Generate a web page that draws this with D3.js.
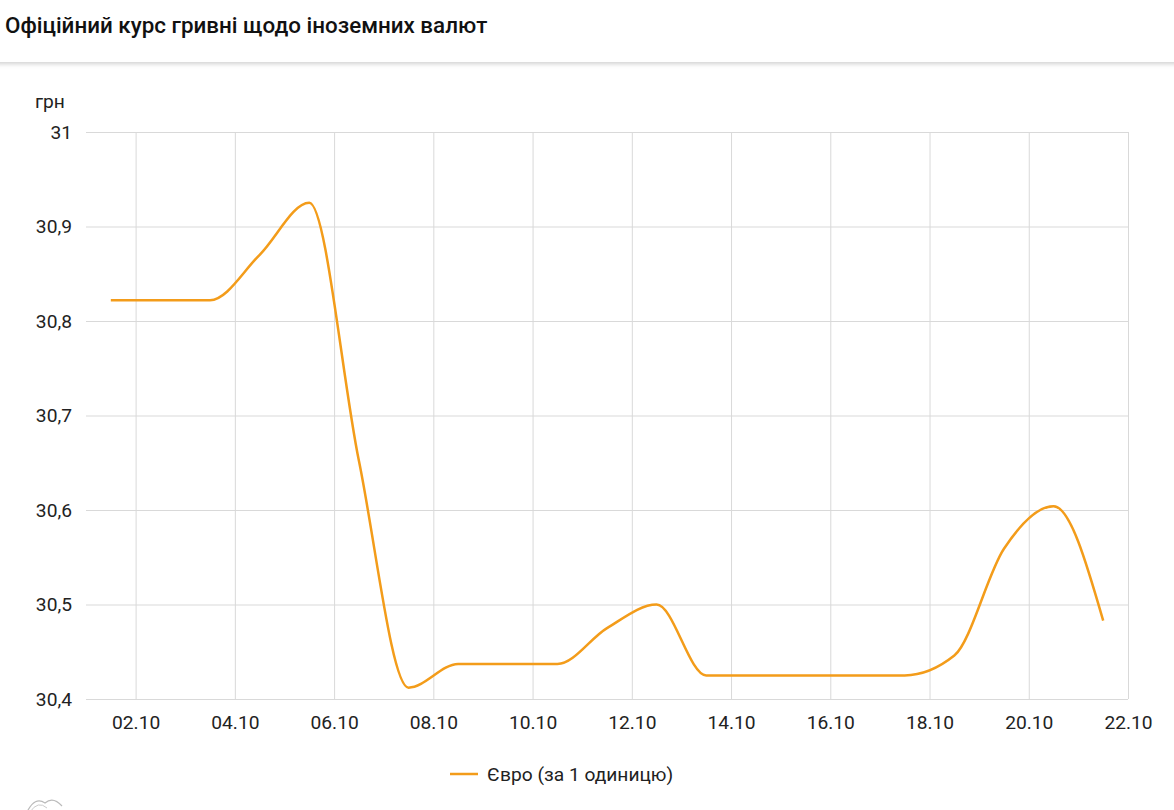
<!DOCTYPE html>
<html><head><meta charset="utf-8">
<script src="https://cdn.jsdelivr.net/npm/d3@7"></script>
<style>
body{margin:0;background:#fff;font-family:Roboto,"Noto Sans",sans-serif;}
</style></head>
<body><svg id="c" width="1174" height="810"></svg>
<script>
const title = "Офіційний курс гривні щодо іноземних валют";
const unitLabel = "грн";
const seriesName = "Євро (за 1 одиницю)";
const days = [1,2,3,4,5,6,7,8,9,10,11,12,13,14,15,16,17,18,19,20,21];
const values = [30.822,30.822,30.822,30.870,30.925,30.652,30.412,30.437,30.437,30.437,30.475,30.500,30.425,30.425,30.425,30.425,30.425,30.446,30.559,30.604,30.483];
const yTicks = [30.4,30.5,30.6,30.7,30.8,30.9,31];
const xTickDays = [2,4,6,8,10,12,14,16,18,20,22];

const svg = d3.select("#c");
const defs = svg.append("defs");
const f = defs.append("filter").attr("id","sh").attr("x","-5%").attr("y","-50%").attr("width","110%").attr("height","200%");
f.append("feDropShadow").attr("dx",0).attr("dy",2).attr("stdDeviation",2).attr("flood-color","#000").attr("flood-opacity",0.18);
svg.append("rect").attr("x",-10).attr("y",-10).attr("width",1194).attr("height",72).attr("fill","#fff").attr("filter","url(#sh)");
svg.append("text").attr("x",5).attr("y",33).attr("font-size",22.4).attr("font-weight",500).attr("fill","#111").text(title);

const x = d3.scaleTime().domain([new Date(2019,9,1,0), new Date(2019,9,22,0)]).range([86,1128]);
const y = d3.scaleLinear().domain([30.4,31]).range([699,132]);
const data = days.map((d,i)=>({date:new Date(2019,9,d,12), v:values[i]}));

const g = svg.append("g");
const yAxis = d3.axisLeft(y).tickValues(yTicks).tickSize(-(1128-86)).tickPadding(14)
  .tickFormat(d => d3.format(".1f")(d).replace(".",",").replace(/,0$/,""));
const ya = g.append("g").attr("transform","translate(86,0)").call(yAxis);
ya.select(".domain").remove();
ya.selectAll(".tick line").attr("stroke","#d9d9d9").attr("stroke-width",1);
ya.selectAll(".tick text").attr("font-size",19.2).attr("fill","#222").attr("font-family","Roboto").attr("x",-14);

const xAxis = d3.axisBottom(x).tickValues(xTickDays.map(d=>new Date(2019,9,d,0))).tickSize(-(699-132)).tickPadding(16)
  .tickFormat(d3.timeFormat("%d.%m"));
const xa = g.append("g").attr("transform","translate(0,699)").call(xAxis);
xa.select(".domain").remove();
xa.selectAll(".tick line").attr("stroke","#d9d9d9").attr("stroke-width",1);
xa.selectAll(".tick text").attr("font-size",19.2).attr("fill","#222").attr("font-family","Roboto");
g.append("line").attr("x1",86).attr("x2",1128).attr("y1",699.5).attr("y2",699.5).attr("stroke","#d9d9d9");

svg.append("text").attr("x",35).attr("y",108).attr("font-size",19.2).attr("fill","#222").text(unitLabel);

const line = d3.line().x(d=>x(d.date)).y(d=>y(d.v)).curve(d3.curveMonotoneX);
svg.append("path").datum(data).attr("d",line).attr("fill","none").attr("stroke","#f39c1a").attr("stroke-width",2.5).attr("stroke-linejoin","round");

svg.append("line").attr("x1",450).attr("x2",478).attr("y1",774).attr("y2",774).attr("stroke","#f39c1a").attr("stroke-width",2.5);
svg.append("text").attr("x",487).attr("y",781).attr("font-size",19.2).attr("fill","#222").text(seriesName);

svg.append("path").attr("d","M27,812 Q35,796 45,803 Q53,796 62,806").attr("fill","none").attr("stroke","#bbb").attr("stroke-width",1.2);
svg.append("path").attr("d","M30,812 Q38,800 47,808").attr("fill","none").attr("stroke","#ccc").attr("stroke-width",1);
</script></body></html>
